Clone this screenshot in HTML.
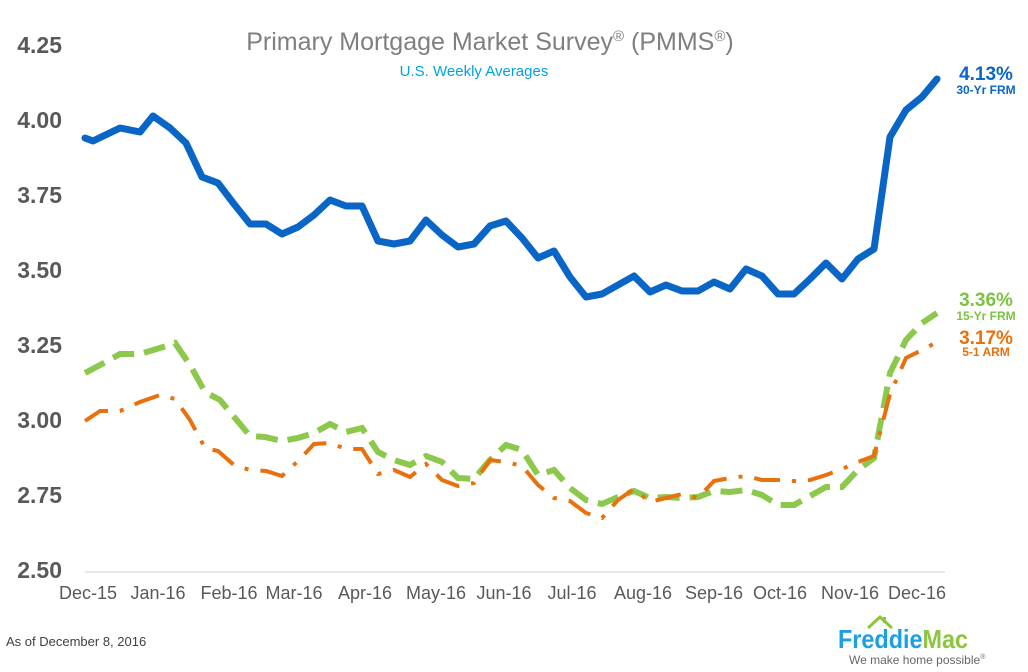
<!DOCTYPE html>
<html><head><meta charset="utf-8"><style>
body{margin:0;width:1028px;height:667px;background:#fff;overflow:hidden;font-family:"Liberation Sans",Arial,sans-serif}
</style></head><body>
<svg width="1028" height="667" viewBox="0 0 1028 667" xmlns="http://www.w3.org/2000/svg" font-family="Liberation Sans, Arial, sans-serif">
<text x="490" y="50" text-anchor="middle" font-size="25" fill="#7f7f7f">Primary Mortgage Market Survey<tspan font-size="15" dy="-9">®</tspan><tspan dy="9"> (PMMS</tspan><tspan font-size="15" dy="-9">®</tspan><tspan dy="9">)</tspan></text>
<text x="474" y="76" text-anchor="middle" font-size="15" fill="#00a3e0">U.S. Weekly Averages</text>
<g font-size="23" font-weight="bold" fill="#595959" text-anchor="end">
<text x="62" y="53">4.25</text><text x="62" y="128">4.00</text><text x="62" y="203">3.75</text><text x="62" y="278">3.50</text><text x="62" y="353">3.25</text><text x="62" y="428">3.00</text><text x="62" y="503">2.75</text><text x="62" y="578">2.50</text>
</g>
<line x1="85" y1="572" x2="945" y2="572" stroke="#d0d0d0" stroke-width="1"/>
<g font-size="18" fill="#595959" text-anchor="middle">
<text x="88" y="599">Dec-15</text><text x="158" y="599">Jan-16</text><text x="229" y="599">Feb-16</text><text x="294" y="599">Mar-16</text><text x="365" y="599">Apr-16</text><text x="436" y="599">May-16</text><text x="504" y="599">Jun-16</text><text x="572" y="599">Jul-16</text><text x="643" y="599">Aug-16</text><text x="714" y="599">Sep-16</text><text x="780" y="599">Oct-16</text><text x="850" y="599">Nov-16</text><text x="917" y="599">Dec-16</text>
</g>
<polyline fill="none" stroke="#0a66c6" stroke-width="7" stroke-linejoin="round" stroke-linecap="round" points="85,138 93,141 120,128 140,132 153,116 170,128 186,143 202,177 218,183 234,204 250,224 266,224 282,234 298,227 314,215 330,200 346,206 362,206 378,241 394,244 410,241 426,220 442,235 458,247 474,244 490,226 506,221 522,238 538,258 554,251 570,277 586,297 602,294 618,285 634,276 650,292 666,285 682,291 698,291 714,282 730,289 746,269 762,276 778,294 794,294 810,279 826,263 842,279 858,259 874,249 890,137 906,110 922,97 937,79"/>
<polyline fill="none" stroke="#8cc84b" stroke-width="6" stroke-dasharray="22 10" points="85,373 100,365 120,354 140,354 160,348 175,343 190,365 205,392 220,400 235,418 250,436 265,437 282,441 298,438 314,433 330,424 346,432 362,428 378,452 394,460 410,465 426,456 442,462 458,478 474,479 490,460 506,445 522,450 538,475 554,470 570,488 586,500 602,504 618,497 634,491 650,498 666,497 682,498 698,497 714,491 730,492 746,490 762,495 778,505 794,505 810,496 826,487 842,487 858,470 874,458 890,373 906,340 922,323 937,313"/>
<polyline fill="none" stroke="#e8700d" stroke-width="4" stroke-dasharray="26 12 4 12" points="85,421 100,411 120,411 140,402 160,395 175,399 190,420 205,448 218,451 234,465 250,470 266,471 282,476 298,461 314,444 330,443 346,449 362,449 378,474 394,470 410,477 426,464 442,480 458,486 474,483 490,460 506,462 522,466 538,485 554,498 570,501 586,513 602,518 618,500 634,489 650,502 666,498 682,494 698,498 714,481 730,478 746,476 762,480 778,480 794,481 810,480 826,475 842,469 858,462 874,456 890,394 906,358 922,350 937,342"/>
<text x="986" y="80" text-anchor="middle" font-size="19" font-weight="bold" fill="#0a66c6">4.13%</text>
<text x="986" y="94" text-anchor="middle" font-size="12" font-weight="bold" fill="#0a66c6">30-Yr FRM</text>
<text x="986" y="306" text-anchor="middle" font-size="19" font-weight="bold" fill="#7cc242">3.36%</text>
<text x="986" y="320" text-anchor="middle" font-size="12" font-weight="bold" fill="#7cc242">15-Yr FRM</text>
<text x="986" y="344" text-anchor="middle" font-size="19" font-weight="bold" fill="#e8700d">3.17%</text>
<text x="986" y="356" text-anchor="middle" font-size="12" font-weight="bold" fill="#e8700d">5-1 ARM</text>
<text x="6" y="646" font-size="13" fill="#404040">As of December 8, 2016</text>
<polyline points="868,628 880,617 892,628" fill="none" stroke="#8cc63f" stroke-width="3"/>
<rect x="883" y="617" width="3" height="6" fill="#8cc63f"/>
<text x="838" y="648" font-size="26" font-weight="bold" fill="#1ba1e2" textLength="130" lengthAdjust="spacingAndGlyphs">Freddie<tspan fill="#8cc63f">Mac</tspan></text>
<text x="849" y="664" font-size="12" fill="#666">We make home possible<tspan font-size="7" dy="-5">®</tspan></text>
</svg>
</body></html>
